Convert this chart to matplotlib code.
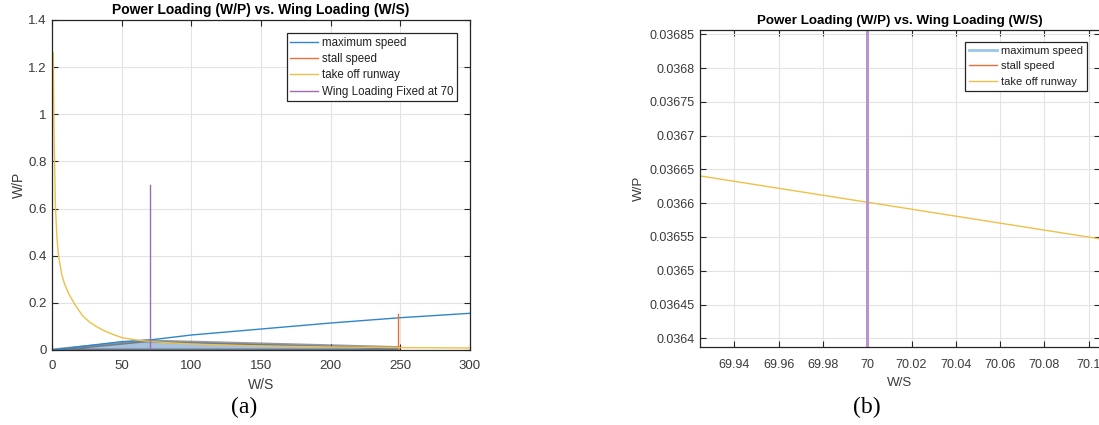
import matplotlib
matplotlib.use('Agg')
import matplotlib.pyplot as plt
from matplotlib.patches import Polygon

# ---------------- data ----------------
ws_max = [0, 25, 50, 70, 100, 150, 200, 250, 300]
wp_max = [0, 0.018, 0.0354, 0.0424, 0.0636, 0.089, 0.1145, 0.137, 0.1557]

ws_takeoff = [0.9, 1.4, 2.4, 3.5, 4.7, 7, 9, 11.9, 16.7, 22, 27, 32.3, 38, 44.3,
              50.3, 60, 70, 80, 100, 125, 150, 200, 250, 300]
wp_takeoff = [1.26, 0.95, 0.62, 0.48, 0.40, 0.32, 0.28, 0.24, 0.19, 0.145, 0.118,
              0.098, 0.08, 0.065, 0.052, 0.043, 0.0366, 0.032, 0.0256, 0.0205,
              0.0171, 0.0128, 0.0102, 0.0085]

stall_ws = [248.5, 248.5]
stall_wp = [0, 0.152]

fixed_ws = [70, 70]
fixed_wp = [0, 0.7]

fill_ws = [0, 66.8, 248.5, 248.5]
fill_wp = [0, 0.0383, 0.0103, 0]

zoom_ws = [69.9245, 70.1046]
zoom_wp = [0.0366404, 0.0365475]
zoom_fixed_wp = [0.0363, 0.0370]

left_xticks = [0, 50, 100, 150, 200, 250, 300]
left_yticks = [0, 0.2, 0.4, 0.6, 0.8, 1, 1.2, 1.4]
left_yticklabels = ['0', '0.2', '0.4', '0.6', '0.8', '1', '1.2', '1.4']
right_xticks = [69.94, 69.96, 69.98, 70, 70.02, 70.04, 70.06, 70.08, 70.1]
right_xticklabels = ['69.94', '69.96', '69.98', '70', '70.02', '70.04', '70.06', '70.08', '70.1']
right_yticks = [0.0364, 0.03645, 0.0365, 0.03655, 0.0366, 0.03665, 0.0367, 0.03675, 0.0368, 0.03685]
right_yticklabels = ['0.0364', '0.03645', '0.0365', '0.03655', '0.0366', '0.03665',
                     '0.0367', '0.03675', '0.0368', '0.03685']

title = 'Power Loading (W/P) vs. Wing Loading (W/S)'

# ---------------- style ----------------
plt.rcParams['font.family'] = ['Liberation Sans', 'DejaVu Sans']
C_BLUE = '#2f86c8'
C_ORANGE = '#e8703a'
C_YELLOW = '#eec04a'
C_PURPLE = '#a06ab4'
C_AX = '#262626'
C_TICK = '#3a3a3a'
C_GRID = '#e3e3e3'

W, H = 1099, 425
fig = plt.figure(figsize=(W / 100, H / 100), dpi=100)


def style_axes(ax, fs, xpad):
    ax.grid(True, color=C_GRID, linewidth=0.8)
    ax.set_axisbelow(True)
    for s in ax.spines.values():
        s.set_color(C_AX)
        s.set_linewidth(0.9)
    ax.tick_params(direction='in', length=4, width=0.8, color=C_AX,
                   top=True, right=True, labelsize=fs, labelcolor=C_TICK)
    ax.tick_params(axis='x', pad=xpad)
    ax.tick_params(axis='y', pad=4)


# ---------------- left panel ----------------
axL = fig.add_axes([52 / W, 1 - 350 / H, 418 / W, 330 / H])
style_axes(axL, 9.5, 7.5)
poly = Polygon(list(zip(fill_ws, fill_wp)), closed=True, facecolor='#a7c0dc',
               edgecolor=(0.25, 0.27, 0.3, 0.55), linewidth=2.2, zorder=1.5)
axL.add_patch(poly)
axL.plot(ws_max, wp_max, color=C_BLUE, lw=1.0, label='maximum speed', zorder=2)
axL.plot(stall_ws, stall_wp, color=C_ORANGE, lw=1.0, label='stall speed', zorder=2)
axL.plot(ws_takeoff, wp_takeoff, color=C_YELLOW, lw=1.0, label='take off runway', zorder=2)
axL.plot(fixed_ws, fixed_wp, color=C_PURPLE, lw=1.0, label='Wing Loading Fixed at 70', zorder=2)
axL.set_xlim(0, 300)
axL.set_ylim(0, 1.4)
axL.set_xticks(left_xticks)
axL.set_xticklabels([str(v) for v in left_xticks])
axL.set_yticks(left_yticks)
axL.set_yticklabels(left_yticklabels)
axL.set_title(title, fontsize=10, fontweight='bold', color='#000000', pad=4)
axL.set_xlabel('W/S', fontsize=10, color=C_TICK, labelpad=4)
axL.set_ylabel('W/P', fontsize=10, color=C_TICK, labelpad=1.5)
legL = axL.legend(loc='upper right', bbox_to_anchor=(0.968, 0.96), borderaxespad=0,
                  fontsize=8.3, fancybox=False, framealpha=1, handlelength=2.45,
                  handletextpad=0.3, labelspacing=0.38, borderpad=0.3)
legL.get_frame().set_edgecolor(C_AX)
legL.get_frame().set_linewidth(0.9)
for t in legL.get_texts():
    t.set_color('#202020')

# ---------------- right panel ----------------
axR = fig.add_axes([700 / W, 1 - 347.3 / H, 400 / W, 317.3 / H])
style_axes(axR, 9, 8.5)
axR.plot(ws_max, wp_max, color='#9cc6e8', lw=2.0, label='maximum speed')
axR.plot(stall_ws, stall_wp, color=C_ORANGE, lw=1.0, label='stall speed')
axR.plot(zoom_ws, zoom_wp, color=C_YELLOW, lw=1.0, label='take off runway')
axR.plot(fixed_ws, zoom_fixed_wp, color='#bb94cb', lw=2.2)
axR.set_xlim(69.9245, 70.1051)
axR.set_ylim(0.0363867, 0.0368564)
axR.set_xticks(right_xticks)
axR.set_xticklabels(right_xticklabels)
axR.set_yticks(right_yticks)
axR.set_yticklabels(right_yticklabels)
axR.set_title(title, fontsize=9.6, fontweight='bold', color='#000000', pad=4)
axR.set_xlabel('W/S', fontsize=9.6, color=C_TICK, labelpad=4)
axR.set_ylabel('W/P', fontsize=9.6, color=C_TICK, labelpad=3)
legR = axR.legend(loc='upper right', bbox_to_anchor=(0.9668, 0.962), borderaxespad=0,
                  fontsize=8, fancybox=False, framealpha=1, handlelength=2.6,
                  handletextpad=0.3, labelspacing=0.48, borderpad=0.35)
legR.get_frame().set_edgecolor(C_AX)
legR.get_frame().set_linewidth(0.9)
for t in legR.get_texts():
    t.set_color('#202020')

# ---------------- sub-figure labels ----------------
fig.text(244 / W, 1 - 407 / H, '(a)', ha='center', va='center', fontsize=17,
         family=['Liberation Serif', 'DejaVu Serif'])
fig.text(867 / W, 1 - 407 / H, '(b)', ha='center', va='center', fontsize=17,
         family=['Liberation Serif', 'DejaVu Serif'])

fig.savefig('out.png', dpi=100)
